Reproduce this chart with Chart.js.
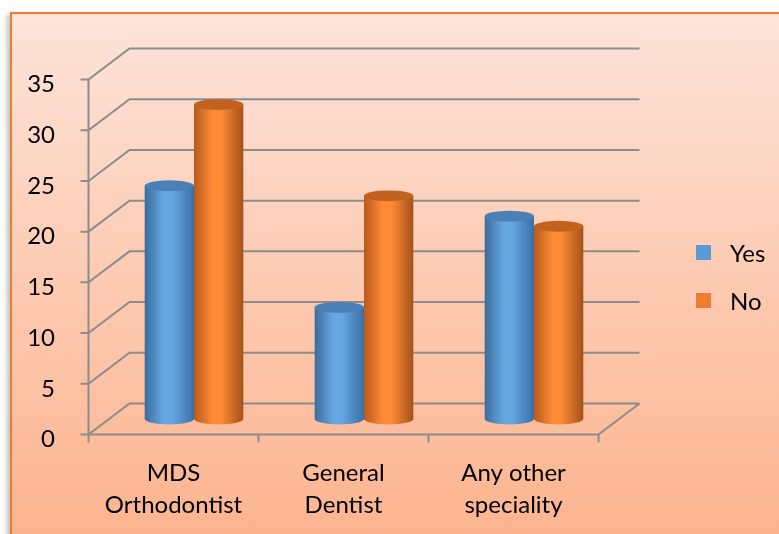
<!DOCTYPE html>
<html>
<head>
<meta charset="utf-8">
<title>Yes / No by speciality</title>
<script src="https://cdn.jsdelivr.net/npm/chart.js@4.4.1/dist/chart.umd.min.js"></script>
<style>
  html, body { margin: 0; padding: 0; background: #fff; }
  body { width: 779px; height: 534px; position: relative; overflow: hidden; font-family: Lato, sans-serif; }
  .frame {
    position: absolute; left: 10px; top: 12px; width: 800px; height: 560px;
    border: 2px solid #ed7d31;
    background: linear-gradient(#fde4da 0px, #fdcbb3 260px, #fcb48f 522px);
    box-shadow: -3px 2px 5px rgba(0, 0, 0, 0.25);
  }
  canvas { position: absolute; left: 0; top: 0; }
  #legend { position: absolute; left: 696px; top: 228px; }
  #legend .item { display: flex; align-items: center; height: 48px; font-size: 24px; color: #000; }
  #legend .box { width: 15px; height: 15px; margin-right: 19px; }
</style>
</head>
<body>
<div class="frame"></div>
<canvas id="chart" width="779" height="534"></canvas>
<div id="legend"></div>
<script>
const categories = [["MDS", "Orthodontist"], ["General", "Dentist"], ["Any other", "speciality"]];
const yesValues = [23, 11, 20];
const noValues = [31, 22, 19];
const yMax = 35;
const yStep = 5;

// depth offset of the 3d box (front edge vs. back wall)
const DX = 20.5;
const DY = 15.5;

const shades = {
  Yes: { edgeL: "#3b6c9c", light: "#66a7e2", edgeR: "#3a6fa5", cap: "#4a80b6" },
  No: { edgeL: "#b85a1c", light: "#fd8b36", edgeR: "#a5511a", cap: "#c3621f" },
};

function drawCylinder(ctx, bar, c) {
  const { x, y, base, width } = bar.getProps(["x", "y", "base", "width"], true);
  const left = x - width / 2;
  const right = x + width / 2;
  const rx = width / 2;
  const ry = width * 0.11;

  const grad = ctx.createLinearGradient(left, 0, right, 0);
  grad.addColorStop(0, c.edgeL);
  grad.addColorStop(0.38, c.light);
  grad.addColorStop(0.55, c.light);
  grad.addColorStop(1, c.edgeR);

  ctx.beginPath();
  ctx.moveTo(left, y);
  ctx.lineTo(left, base);
  ctx.ellipse(x, base, rx, ry, 0, Math.PI, 0, true);
  ctx.lineTo(right, y);
  ctx.closePath();
  ctx.fillStyle = grad;
  ctx.fill();

  ctx.beginPath();
  ctx.ellipse(x, y, rx, ry, 0, 0, Math.PI * 2);
  ctx.fillStyle = c.cap;
  ctx.fill();
}

const box3d = {
  id: "box3d",
  beforeDatasetsDraw(chart) {
    const { ctx, chartArea: a, scales } = chart;
    const xs = scales.x;
    const ys = scales.y;
    const bottom = ys.getPixelForValue(0) + DY;
    const top = ys.getPixelForValue(yMax) + DY;

    ctx.save();
    ctx.strokeStyle = "#8c8c8c";
    ctx.lineWidth = 2;
    ctx.beginPath();
    ys.ticks.forEach((t) => {
      const py = ys.getPixelForValue(t.value);
      ctx.moveTo(a.left - DX - 8, py + DY);
      ctx.lineTo(a.left - DX, py + DY);
      ctx.lineTo(a.left + DX, py - DY);
      ctx.lineTo(a.right + DX, py - DY);
    });
    // front axis + floor
    ctx.moveTo(a.left - DX, top);
    ctx.lineTo(a.left - DX, bottom);
    ctx.lineTo(a.right - DX, bottom);
    ctx.lineTo(a.right + DX, bottom - 2 * DY);
    // category ticks
    for (let i = 0; i <= categories.length; i++) {
      const bx = xs.getPixelForDecimal(i / categories.length) - DX;
      ctx.moveTo(bx, bottom);
      ctx.lineTo(bx, bottom + 8);
    }
    ctx.stroke();
    ctx.restore();
  },
  beforeDatasetDraw() {
    return false;
  },
  afterDatasetsDraw(chart) {
    const ctx = chart.ctx;
    ctx.save();
    chart.data.datasets.forEach((ds, i) => {
      chart.getDatasetMeta(i).data.forEach((bar) => drawCylinder(ctx, bar, shades[ds.label]));
    });
    ctx.restore();
  },
};

const chart = new Chart(document.getElementById("chart"), {
  type: "bar",
  data: {
    labels: categories,
    datasets: [
      { label: "Yes", data: yesValues, backgroundColor: "#5b9bd5" },
      { label: "No", data: noValues, backgroundColor: "#ed7d31" },
    ],
  },
  options: {
    responsive: false,
    animation: false,
    layout: { padding: { left: 9, top: 64, right: 160, bottom: 0 } },
    categoryPercentage: 0.58,
    barPercentage: 1,
    plugins: { legend: { display: false }, tooltip: { enabled: false } },
    scales: {
      x: {
        grid: { display: false },
        border: { display: false },
        afterFit: (s) => { s.height = 115; },
        ticks: {
          labelOffset: -DX,
          padding: 30,
          color: "#000",
          font: { family: "Lato", size: 24, lineHeight: 1.333 },
        },
      },
      y: {
        min: 0,
        max: yMax,
        grid: { display: false },
        border: { display: false },
        afterFit: (s) => { s.width = 100; },
        ticks: {
          stepSize: yStep,
          labelOffset: DY + 5,
          padding: 46,
          color: "#000",
          font: { family: "Lato", size: 24 },
        },
      },
    },
  },
  plugins: [box3d],
});

const legend = document.getElementById("legend");
chart.data.datasets.forEach((ds) => {
  const item = document.createElement("div");
  item.className = "item";
  item.innerHTML = `<span class="box" style="background:${ds.backgroundColor}"></span><span>${ds.label}</span>`;
  legend.appendChild(item);
});
</script>
</body>
</html>
